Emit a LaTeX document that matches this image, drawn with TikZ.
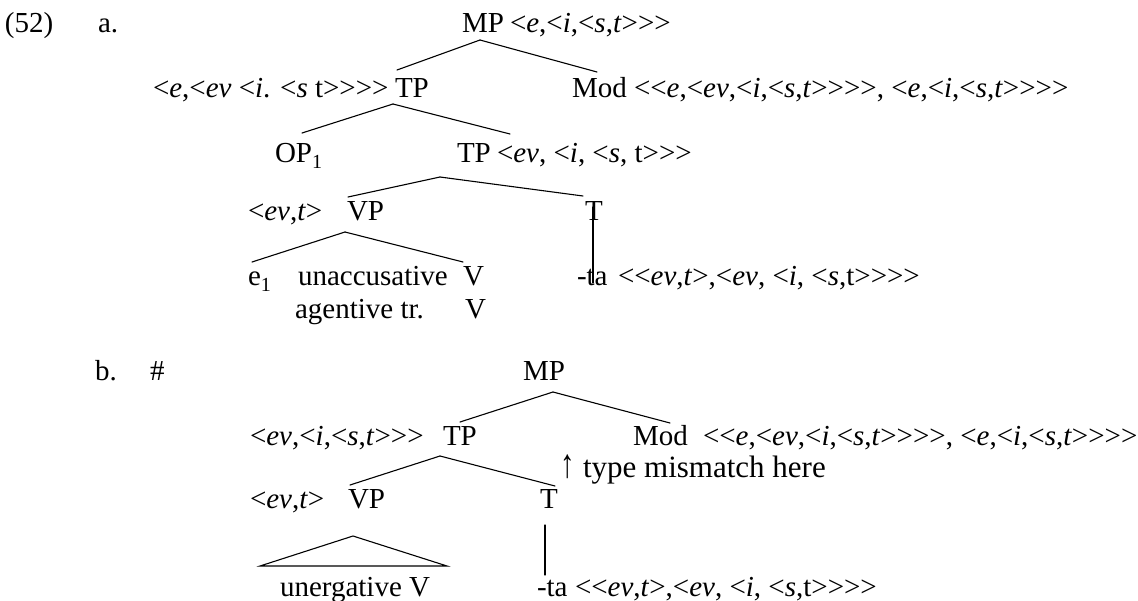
\documentclass[tikz,border=0pt]{standalone}
\usepackage{fontspec}
\setmainfont{Liberation Serif}
\usetikzlibrary{calc}
\newcommand\LA{\mbox{<}}
\newcommand\RA{\mbox{>}}
\newcommand\I[1]{\textit{#1}}
\newcommand\subnum[1]{\raisebox{-0.22em}{\fontsize{20}{20}\selectfont #1}}
\begin{document}
\begin{tikzpicture}[x=1pt,y=-1pt,
  lbl/.style={inner sep=0pt,outer sep=0pt,anchor=base west,font=\fontsize{29}{34}\selectfont},
  edge/.style={line width=1.1pt,line cap=round}]
\useasboundingbox[fill=white] (0,0) rectangle (1138,600);
% ---------- (52a)
\node[lbl] (ex) at (5,32) {(52)};
\node[lbl] (la) at (98,32) {a.};
\node[lbl] (MPa) at (462,32) {MP};
\node[lbl] (MPat) at (510,32) {\LA\I{e},\LA\I{i},\LA\I{s},\I{t}\RA\RA\RA};
\node[lbl] (TPat) at (153,97) {\LA\I{e},\LA\I{ev} \LA\I{i}. \LA\I{s} t\RA\RA\RA\RA};
\node[lbl] (TPa) at (395,97) {TP};
\node[lbl] (Moda) at (572,97) {Mod};
\node[lbl] (Modat) at (634,97) {\LA\LA\I{e},\LA\I{ev},\LA\I{i},\LA\I{s},\I{t}\RA\RA\RA\RA, \LA\I{e},\LA\I{i},\LA\I{s},\I{t}\RA\RA\RA\RA};
\node[lbl] (OPa) at (275,162) {OP\subnum{1}};
\node[lbl] (TPa2) at (457,162) {TP};
\node[lbl] (TPa2t) at (497,162) {\LA\I{ev}, \LA\I{i}, \LA\I{s}, t\RA\RA\RA};
\node[lbl] (VPat) at (248,220) {\LA\I{ev},\I{t}\RA};
\node[lbl] (VPa) at (347,220) {VP};
\node[lbl] (Ta) at (585,220) {T};
\node[lbl] (ea) at (248,285) {e\subnum{1}};
\node[lbl] (unacc) at (298,285) {unaccusative};
\node[lbl] (Va) at (463,285) {V};
\node[lbl] (taa) at (577,285) {-ta};
\node[lbl] (taat) at (618,285) {\LA\LA\I{ev},\I{t}\RA,\LA\I{ev}, \LA\I{i}, \LA\I{s},t\RA\RA\RA\RA};
\node[lbl] (agt) at (295,318) {agentive tr.};
\node[lbl] (Va2) at (465,318) {V};
% edges a
\coordinate (MPa-ap) at ($(MPa.base west)+(18,8)$);
\draw[edge] (MPa-ap) -- ($(TPa.base west)+(2,-27)$);
\draw[edge] (MPa-ap) -- ($(Moda.base west)+(25,-25)$);
\coordinate (TPa-ap) at ($(TPa.base west)+(-2,7)$);
\draw[edge] (TPa-ap) -- ($(OPa.base west)+(27,-29)$);
\draw[edge] (TPa-ap) -- ($(TPa2.base west)+(53,-28)$);
\coordinate (TPa2-ap) at ($(TPa2.base west)+(-17,15)$);
\draw[edge] (TPa2-ap) -- ($(VPa.base west)+(1,-23)$);
\draw[edge] (TPa2-ap) -- ($(Ta.base west)+(-2,-24)$);
\coordinate (VPa-ap) at ($(VPa.base west)+(-2,12)$);
\draw[edge] (VPa-ap) -- ($(ea.base west)+(4,-23)$);
\draw[edge] (VPa-ap) -- ($(Va.base west)+(0,-23)$);
\draw[edge] ($(Ta.base west)+(8,-13)$) -- ($(taa.base west)+(16,-2)$);
% ---------- (52b)
\node[lbl] (lb) at (95,380) {b.};
\node[lbl] (hash) at (150,380) {\#};
\node[lbl] (MPb) at (523,380) {MP};
\node[lbl] (TPbt) at (250,445) {\LA\I{ev},\LA\I{i},\LA\I{s},\I{t}\RA\RA\RA};
\node[lbl] (TPb) at (443,445) {TP};
\node[lbl] (Modb) at (633,445) {Mod};
\node[lbl] (Modbt) at (703,445) {\LA\LA\I{e},\LA\I{ev},\LA\I{i},\LA\I{s},\I{t}\RA\RA\RA\RA, \LA\I{e},\LA\I{i},\LA\I{s},\I{t}\RA\RA\RA\RA};
\node[lbl] (up) at (560,477) {\scalebox{1}[1.4]{↑}};
\node[lbl,font=\fontsize{31}{36}\selectfont] (mism) at (583,477) {type mismatch here};
\node[lbl] (VPbt) at (250,508) {\LA\I{ev},\I{t}\RA};
\node[lbl] (VPb) at (348,508) {VP};
\node[lbl] (Tb) at (540,508) {T};
\node[lbl] (unerg) at (280,596) {unergative V};
\node[lbl] (tab) at (537,596) {-ta};
\node[lbl] (tabt) at (575,596) {\LA\LA\I{ev},\I{t}\RA,\LA\I{ev}, \LA\I{i}, \LA\I{s},t\RA\RA\RA\RA};
% edges b
\coordinate (MPb-ap) at ($(MPb.base west)+(30,12)$);
\draw[edge] (MPb-ap) -- ($(TPb.base west)+(17,-23)$);
\draw[edge] (MPb-ap) -- ($(Modb.base west)+(37,-22)$);
\coordinate (TPb-ap) at ($(TPb.base west)+(-3,11)$);
\draw[edge] (TPb-ap) -- ($(VPb.base west)+(2,-23)$);
\draw[edge] (TPb-ap) -- ($(Tb.base west)+(15,-22)$);
\draw[edge,line join=miter] ($(unerg.base west)+(73,-60)$) -- ($(unerg.base west)+(-20,-30)$) -- ($(unerg.base west)+(167,-30)$) -- cycle;
\draw[edge] ($(Tb.base west)+(5,17)$) -- ($(tab.base west)+(8,-21)$);
\end{tikzpicture}
\end{document}
